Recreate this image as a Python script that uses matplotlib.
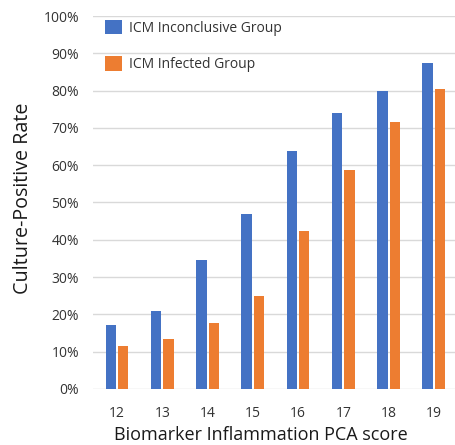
import numpy as np
import matplotlib
matplotlib.use('Agg')
import matplotlib.pyplot as plt
from matplotlib.ticker import PercentFormatter

plt.rcParams['font.family'] = ['Open Sans', 'DejaVu Sans']

# PCA score categories and culture-positive rates (%)
scores = ['12', '13', '14', '15', '16', '17', '18', '19']
inconclusive = [17.1, 21.0, 34.7, 46.8, 63.9, 74.1, 80.0, 87.5]
infected = [11.6, 13.3, 17.6, 24.9, 42.4, 58.7, 71.6, 80.4]

BLUE = '#4472C4'
ORANGE = '#ED7D31'

fig = plt.figure(figsize=(4.56, 4.45), dpi=100)
ax = fig.add_axes([0.204, 0.126, 0.794, 0.838])

x = np.arange(len(scores))
w = 0.23
off = 0.137
ax.bar(x - off, inconclusive, width=w, color=BLUE, label='ICM Inconclusive Group', zorder=3)
ax.bar(x + off, infected, width=w, color=ORANGE, label='ICM Infected Group', zorder=3)

ax.set_xlim(-0.53, 7.47)
ax.set_ylim(0, 100)
ax.set_yticks(np.arange(0, 101, 10))
ax.yaxis.set_major_formatter(PercentFormatter(decimals=0))
ax.set_xticks(x)
ax.set_xticklabels(scores)

ax.grid(axis='y', color='#D9D9D9', linewidth=1, zorder=0)
for s in ax.spines.values():
    s.set_visible(False)
ax.tick_params(axis='both', length=0, labelsize=10, labelcolor='#333333')
ax.tick_params(axis='y', pad=10)
ax.tick_params(axis='x', pad=12)

ax.set_ylabel('Culture-Positive Rate', fontsize=14.2, color='#1a1a1a')
ax.yaxis.set_label_coords(-0.165, 0.51)
ax.set_xlabel('Biomarker Inflammation PCA score', fontsize=13, color='#1a1a1a')
ax.xaxis.set_label_coords(0.463, -0.1)

ax.legend(loc='upper left', bbox_to_anchor=(0.033, 0.99), frameon=False,
          fontsize=10, handlelength=1.22, handleheight=1.22,
          handletextpad=0.5, labelspacing=1.5, borderpad=0, borderaxespad=0,
          labelcolor='#333333')

plt.savefig('out.png', dpi=100)
